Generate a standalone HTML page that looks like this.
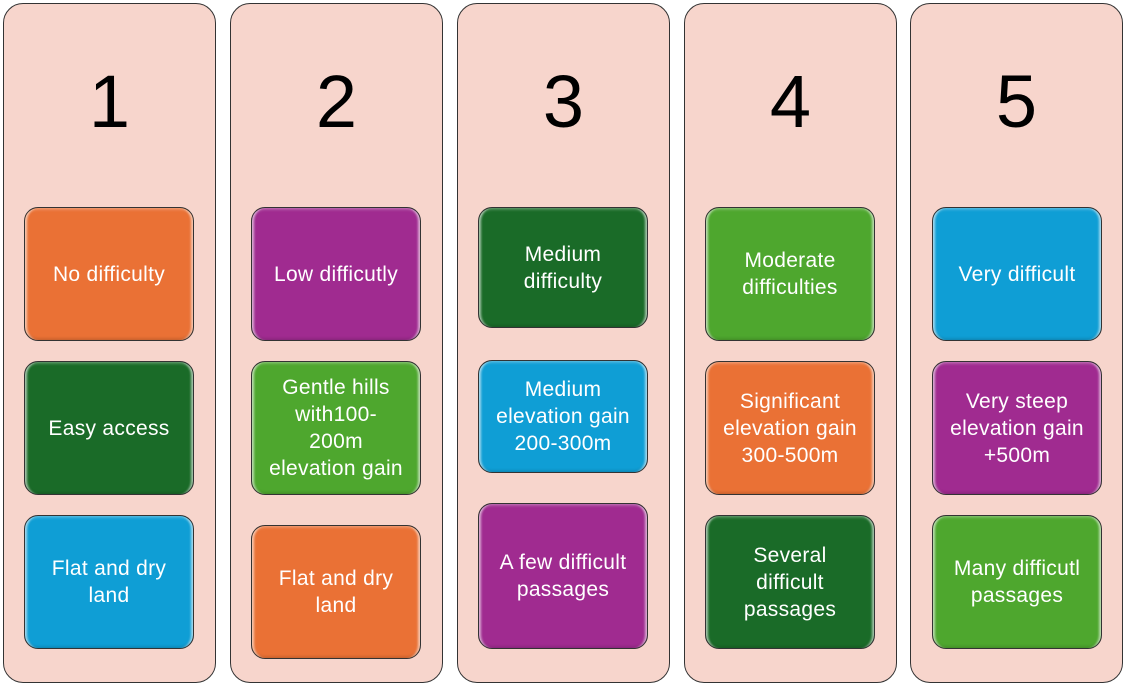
<!DOCTYPE html>
<html><head><style>
body{margin:0;width:1129px;height:686px;background:#fff;position:relative;font-family:"Liberation Sans",sans-serif;overflow:hidden}
.col{position:absolute;top:3px;height:680px;width:213px;background:#f7d5cc;border:1.5px solid #333;border-radius:20px;box-sizing:border-box}
.num{position:absolute;top:58px;width:100%;text-align:center;font-size:74px;color:#000;line-height:80px}
.b{position:absolute;width:170px;border:1px solid #333;border-radius:14px;box-sizing:border-box;display:flex;align-items:center;justify-content:center;text-align:center;color:#fff;font-size:21px;letter-spacing:.3px;line-height:27px;white-space:nowrap;box-shadow:inset 4px 0 2px -2px rgba(255,255,255,.6),inset -4px 0 2px -2px rgba(255,255,255,.6),inset 0 3px 3px -2px rgba(255,255,255,.4),inset 0 -3px 3px -2px rgba(0,0,0,.2)}
.o{background:#ea7135}.p{background:#a02b90}.d{background:#1a6b28}.g{background:#4ea72e}.c{background:#0f9ed5}
</style></head><body>
<div class="col" style="left:3px"><div class="num">1</div></div>
<div class="col" style="left:230px"><div class="num">2</div></div>
<div class="col" style="left:457px"><div class="num">3</div></div>
<div class="col" style="left:684px"><div class="num">4</div></div>
<div class="col" style="left:910px"><div class="num">5</div></div>

<div class="b o" style="left:24px;top:207px;height:134px">No difficulty</div>
<div class="b d" style="left:24px;top:361px;height:134px">Easy access</div>
<div class="b c" style="left:24px;top:515px;height:134px">Flat and dry<br>land</div>

<div class="b p" style="left:251px;top:207px;height:134px">Low difficutly</div>
<div class="b g" style="left:251px;top:361px;height:134px">Gentle hills<br>with100-<br>200m<br>elevation gain</div>
<div class="b o" style="left:251px;top:525px;height:134px">Flat and dry<br>land</div>

<div class="b d" style="left:478px;top:207px;height:121px">Medium<br>difficulty</div>
<div class="b c" style="left:478px;top:360px;height:113px">Medium<br>elevation gain<br>200-300m</div>
<div class="b p" style="left:478px;top:503px;height:146px">A few difficult<br>passages</div>

<div class="b g" style="left:705px;top:207px;height:134px">Moderate<br>difficulties</div>
<div class="b o" style="left:705px;top:361px;height:134px">Significant<br>elevation gain<br>300-500m</div>
<div class="b d" style="left:705px;top:515px;height:134px">Several<br>difficult<br>passages</div>

<div class="b c" style="left:932px;top:207px;height:134px">Very difficult</div>
<div class="b p" style="left:932px;top:361px;height:134px">Very steep<br>elevation gain<br>+500m</div>
<div class="b g" style="left:932px;top:515px;height:134px">Many difficutl<br>passages</div>
</body></html>
